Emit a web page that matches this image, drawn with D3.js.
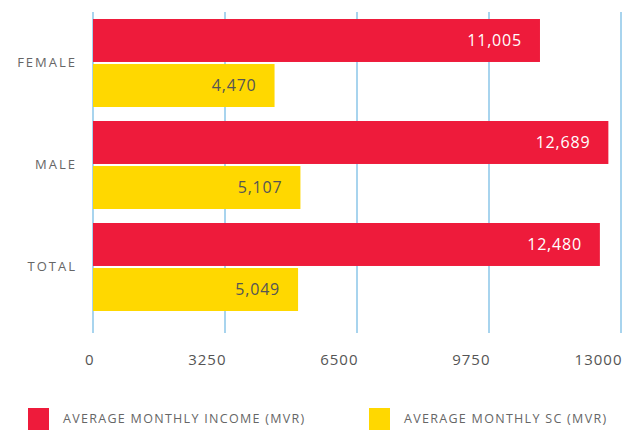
<!DOCTYPE html>
<html><head><meta charset="utf-8">
<script src="https://cdn.jsdelivr.net/npm/d3@7"></script>
<style>
body{margin:0;background:#fff;}
text{font-family:"Open Sans",sans-serif;}
</style></head>
<body><svg id="c" width="631" height="432"></svg>
<script>
const categories = ["FEMALE","MALE","TOTAL"];
const seriesNames = ["AVERAGE MONTHLY INCOME (MVR)","AVERAGE MONTHLY SC (MVR)"];
const income = [11005, 12689, 12480];
const sc = [4470, 5107, 5049];
const tickValues = [0, 3250, 6500, 9750, 13000];
const colors = ["#EE1B3B", "#FFD800"];

const svg = d3.select("#c");
const x = d3.scaleLinear().domain([0, 13000]).range([93, 621]);
const y = d3.scaleBand().domain(categories).range([12, 318]).paddingInner(14/102).paddingOuter(7/102);
const ySub = d3.scaleBand().domain([0,1]).range([0, y.bandwidth()]).paddingInner(4/88);

// grid
svg.append("g").selectAll("line").data(tickValues).join("line")
  .attr("x1", d=>x(d)).attr("x2", d=>x(d)).attr("y1", 12).attr("y2", 333)
  .attr("stroke", "#A8D4EE").attr("stroke-width", 2);

// x axis labels
const xAxis = d3.axisBottom(x).tickValues(tickValues).tickSize(0).tickFormat(d3.format("d"));
const gx = svg.append("g").attr("transform", "translate(0,350)").call(xAxis);
gx.select(".domain").remove();
gx.selectAll("text").attr("text-anchor","end").attr("dx","1px").attr("dy","0.8em").attr("fill","#555").attr("font-size",15).attr("font-family","'Open Sans',sans-serif").attr("letter-spacing","1px");

// y labels
const yAxis = d3.axisLeft(y).tickSize(0);
const gy = svg.append("g").attr("transform", "translate(77,0)").call(yAxis);
gy.select(".domain").remove();
gy.selectAll("text").attr("fill","#666").attr("font-size",13).attr("font-family","'Open Sans',sans-serif").attr("letter-spacing","2px").attr("x", 0);

const data = categories.map((c,i)=>({cat:c, vals:[income[i], sc[i]]}));
const groups = svg.append("g").selectAll("g").data(data).join("g")
  .attr("transform", d=>`translate(0,${y(d.cat)})`);
const fmt = d3.format(",");
groups.selectAll("rect").data(d=>d.vals.map((v,j)=>({v,j}))).join("rect")
  .attr("x", x(0)).attr("y", d=>ySub(d.j)).attr("width", d=>x(d.v)-x(0)).attr("height", ySub.bandwidth())
  .attr("fill", d=>colors[d.j]);
groups.selectAll("text.val").data(d=>d.vals.map((v,j)=>({v,j}))).join("text").attr("class","val")
  .attr("x", d=>x(d.v)-18).attr("y", d=>ySub(d.j)+ySub.bandwidth()/2).attr("dy","0.35em")
  .attr("text-anchor","end").attr("font-size",16).attr("letter-spacing","0.8px")
  .attr("fill", d=>d.j===0?"#fff":"#555").text(d=>fmt(d.v));

// legend
const lx = [28, 369];
const lg = svg.append("g").selectAll("g").data(seriesNames).join("g")
  .attr("transform",(d,i)=>`translate(${lx[i]},408)`);
lg.append("rect").attr("width",21).attr("height",22).attr("fill",(d,i)=>colors[i]);
lg.append("text").attr("x",35).attr("y",11).attr("dy","0.35em").attr("font-size",12.5).attr("letter-spacing","1.3px").attr("fill","#666").text(d=>d);
</script></body></html>
